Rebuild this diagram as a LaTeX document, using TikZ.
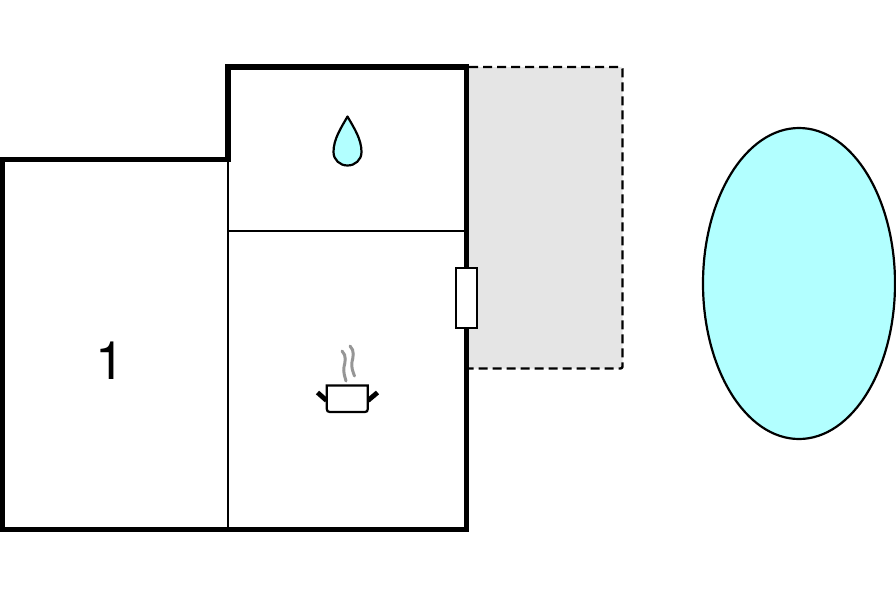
\documentclass[tikz,border=0pt]{standalone}
\usepackage{fontspec}
\setmainfont{TeX Gyre Heros}
\definecolor{aqua}{RGB}{178,255,255}
\definecolor{terrace}{RGB}{229,229,229}
\definecolor{steam}{RGB}{150,150,150}
\tikzset{
  wall/.style={line width=5.2pt,line join=miter,line cap=rect},
  thinwall/.style={line width=2.3pt},
  outline/.style={line width=2.2pt,draw=black},
  terraceedge/.style={line width=2.4pt,dash pattern=on 9pt off 5pt,line join=round},
  steamline/.style={line width=3pt,draw=steam,line cap=round},
  handle/.style={line width=4.8pt}
}
\begin{document}
\begin{tikzpicture}[x=1pt,y=-1pt]
\useasboundingbox (0,0) rectangle (896,597);
% terrace
\fill[terrace,rounded corners=2pt] (466,67) rectangle (622.5,368.5);
\draw[terraceedge,rounded corners=2pt] (469,67) -- (622.5,67) -- (622.5,368.5) -- (469,368.5);
% inner walls
\draw[thinwall] (228,160) -- (228,529);
\draw[thinwall] (228,231) -- (466,231);
% outer walls
\draw[wall] (2.5,529.5) -- (2.5,159.5) -- (228,159.5) -- (228,67) -- (466.5,67) -- (466.5,529.5) -- cycle;
% window
\draw[outline,fill=white] (456,268.3) rectangle (476.7,328.3);
% lake
\draw[outline,fill=aqua] (799,283.5) ellipse [x radius=96,y radius=155.5];
% water drop
\draw[outline,fill=aqua,line join=round] (347.5,116.5)
  .. controls (341,128) and (333.5,139) .. (333.5,152)
  .. controls (333.5,160) and (340,165.5) .. (347.5,165.5)
  .. controls (355,165.5) and (361.5,160) .. (361.5,152)
  .. controls (361.5,139) and (354,128) .. (347.5,116.5) -- cycle;
% pot
\draw[handle] (317.5,392.5) -- (326.5,400.5);
\draw[handle] (368,400.5) -- (377.5,392.5);
\draw[outline,fill=white] (326.8,385.5) -- (367.8,385.5) -- (367.8,409) .. controls (367.8,411) and (366.8,412) .. (364.8,412) -- (329.8,412) .. controls (327.8,412) and (326.8,411) .. (326.8,409) -- cycle;
\draw[steamline] (342,351) .. controls (347,356) and (345,362) .. (344,367) .. controls (343,372) and (345,377) .. (346,381);
\draw[steamline] (350,346) .. controls (355,351) and (353,357) .. (352,362) .. controls (351,367) and (353,372) .. (354.5,376);
% label
\node[font=\fontsize{53}{53}\selectfont,text=black,inner sep=0pt] (roomone) at (110.5,360.5) {1};
\end{tikzpicture}
\end{document}
